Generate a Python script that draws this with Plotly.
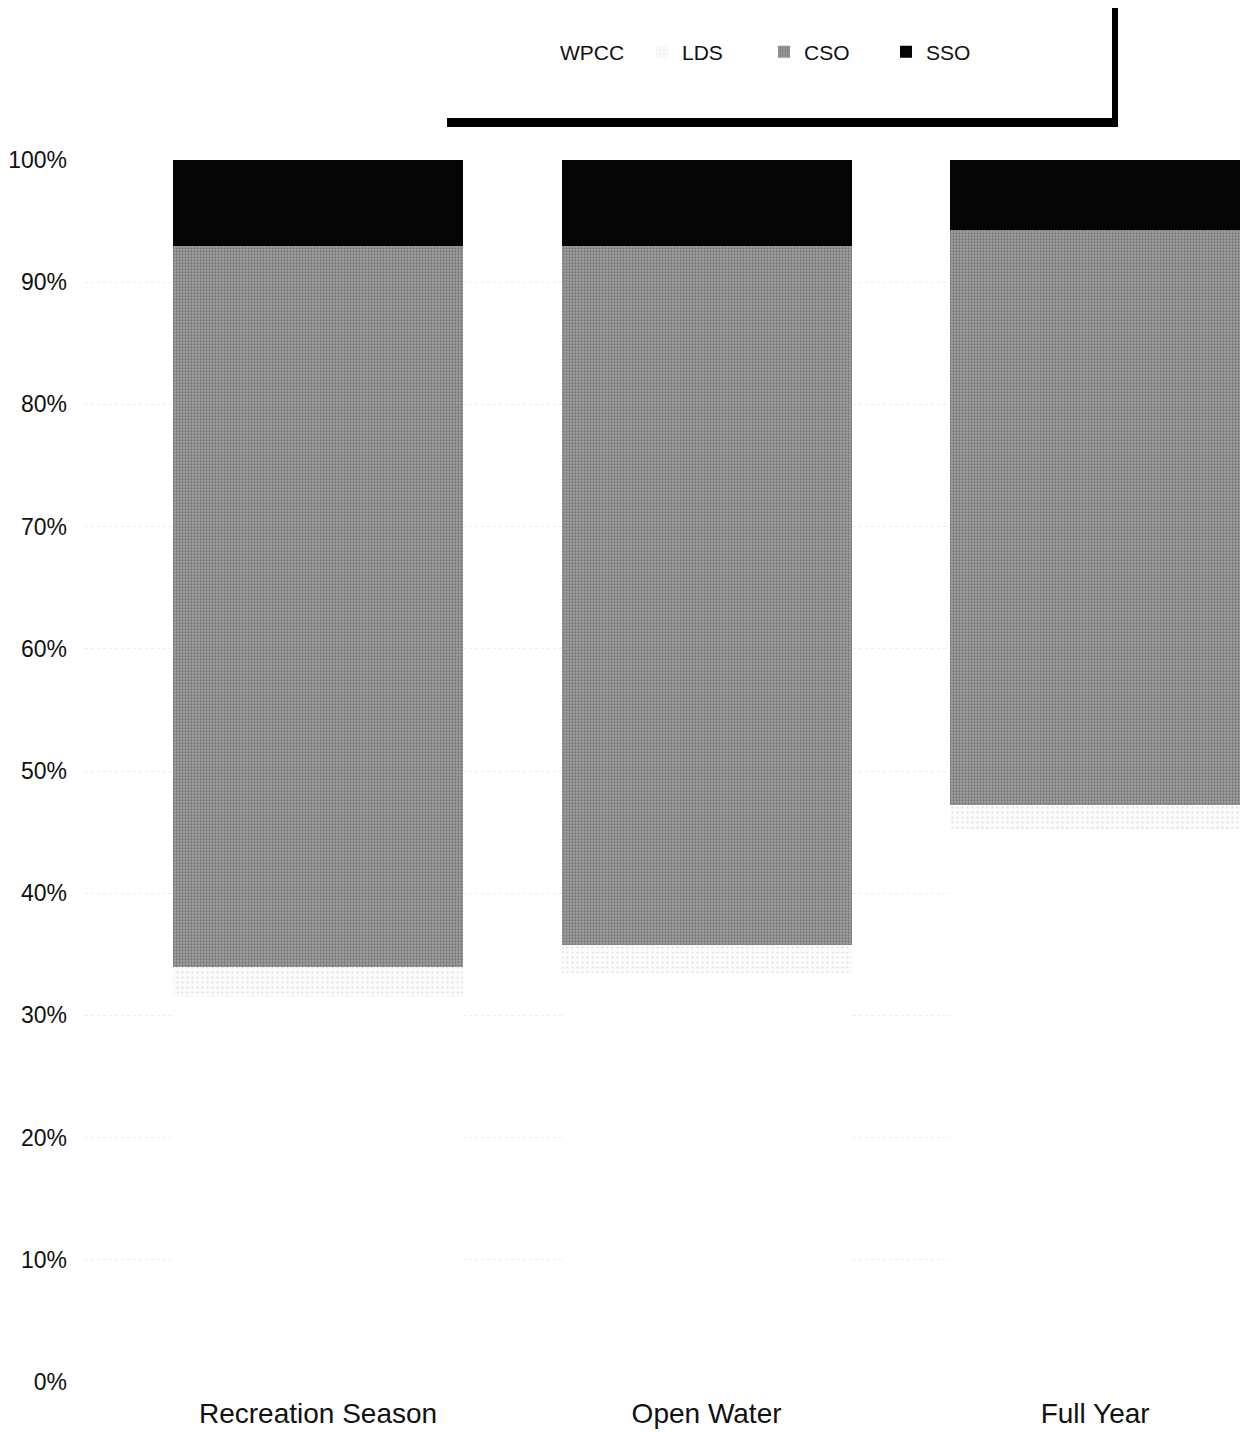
import plotly.graph_objects as go

# Share of loading by source, per period (percent of total)
periods = ["Recreation Season", "Open Water", "Full Year"]
wpcc = [31.5, 33.5, 45.2]
lds = [2.5, 2.3, 2.0]
cso = [59.0, 57.2, 47.1]
sso = [7.0, 7.0, 5.7]

y_ticks = [0, 10, 20, 30, 40, 50, 60, 70, 80, 90, 100]
y_tick_text = [f"{v}%" for v in y_ticks]

W, H = 1242, 1432
L_MARGIN, R_MARGIN, T_MARGIN, B_MARGIN = 85, 0, 160, 50
PLOT_W = W - L_MARGIN - R_MARGIN
PLOT_H = H - T_MARGIN - B_MARGIN

FONT = "Liberation Sans, Arial, sans-serif"


def px_x(x):
    return (x - L_MARGIN) / PLOT_W


def px_y(y):
    return 1 + (T_MARGIN - y) / PLOT_H


fig = go.Figure()

fig.add_bar(
    x=periods, y=wpcc, name="WPCC",
    marker=dict(color="#ffffff", line=dict(width=0)),
)
fig.add_bar(
    x=periods, y=lds, name="LDS",
    marker=dict(
        color="#ffffff", line=dict(width=0),
        pattern=dict(shape=".", fgcolor="#c4c4c4", bgcolor="#fbfbfb",
                     size=5, solidity=0.15),
    ),
)
fig.add_bar(
    x=periods, y=cso, name="CSO",
    marker=dict(
        color="#8e8e8e", line=dict(width=0),
        pattern=dict(shape=".", fgcolor="#4a4a4a", bgcolor="#a2a2a2",
                     size=3, solidity=0.45),
    ),
)
fig.add_bar(
    x=periods, y=sso, name="SSO",
    marker=dict(color="#050505", line=dict(width=0)),
)

fig.update_traces(width=0.746)

fig.update_layout(
    width=W, height=H,
    margin=dict(l=L_MARGIN, r=R_MARGIN, t=T_MARGIN, b=B_MARGIN),
    barmode="stack",
    plot_bgcolor="#ffffff",
    paper_bgcolor="#ffffff",
    font=dict(family=FONT, color="#111111"),
    showlegend=True,
    legend=dict(
        orientation="h",
        traceorder="normal",
        x=px_x(520), xanchor="left",
        y=px_y(52), yanchor="middle",
        font=dict(size=21, family=FONT, color="#111111"),
        bgcolor="rgba(0,0,0,0)",
        entrywidth=77, entrywidthmode="pixels",
        itemwidth=30,
    ),
    xaxis=dict(
        type="category",
        range=[-0.5997, 2.378],
        showgrid=False, zeroline=False, showline=False,
        ticks="", ticklabelstandoff=12,
        tickfont=dict(size=28, family=FONT, color="#111111"),
        fixedrange=True,
    ),
    yaxis=dict(
        range=[0, 100],
        tickvals=y_ticks, ticktext=y_tick_text,
        tickfont=dict(size=23, family=FONT, color="#111111"),
        showgrid=True, gridcolor="#eeeeee", griddash="dot", gridwidth=1,
        zeroline=False, showline=False,
        ticks="", ticklabelstandoff=17,
        fixedrange=True,
    ),
    shapes=[
        # legend frame: heavy right and bottom edges
        dict(type="rect", xref="paper", yref="paper",
             x0=px_x(1112), x1=px_x(1118), y0=px_y(127), y1=px_y(8),
             fillcolor="#000000", line=dict(width=0)),
        dict(type="rect", xref="paper", yref="paper",
             x0=px_x(447), x1=px_x(1118), y0=px_y(127), y1=px_y(118),
             fillcolor="#000000", line=dict(width=0)),
    ],
)

fig.write_html("out.html")
